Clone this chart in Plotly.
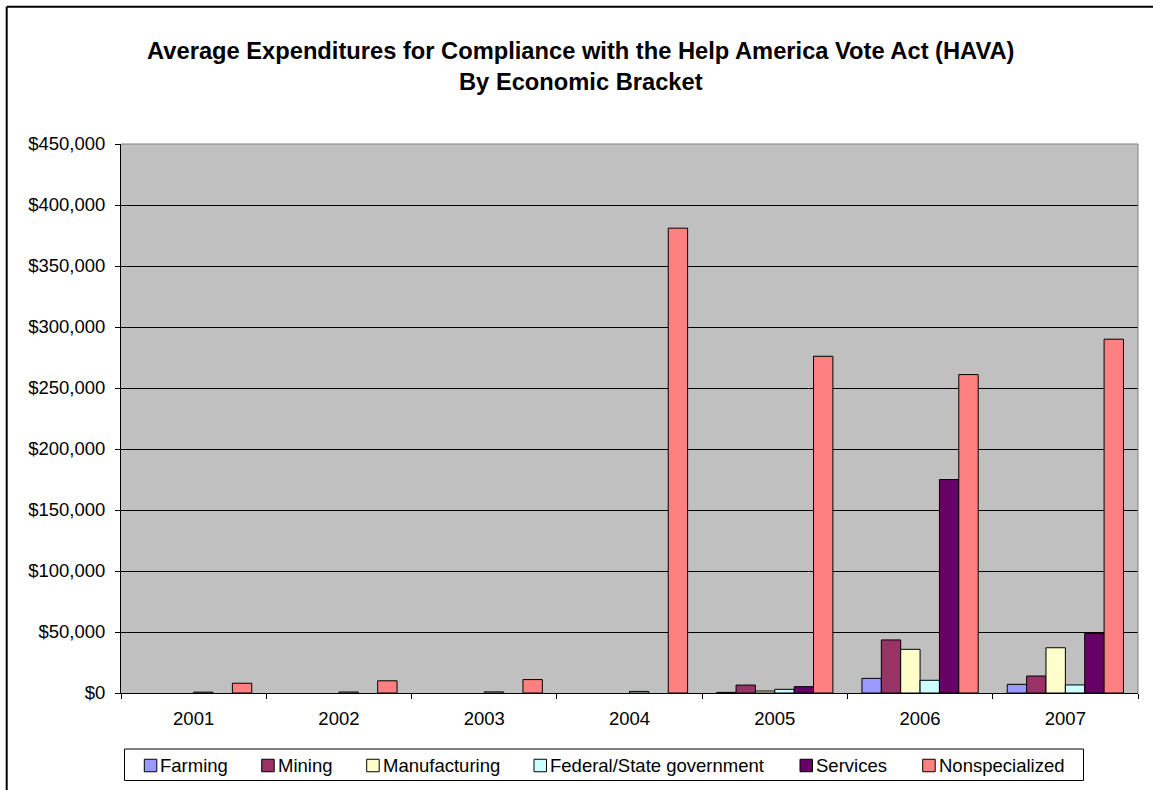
import plotly.graph_objects as go

# ---- data (None = no expenditure reported) ----------------------------
years = ["2001", "2002", "2003", "2004", "2005", "2006", "2007"]

farming = [None, None, None, None, 500, 12000, 7100]
mining = [None, None, None, None, 6500, 43500, 13900]
manufacturing = [None, None, None, None, 1600, 35800, 37100]
federal_state = [700, 800, 900, 1300, 3000, 10400, 6600]
services = [None, None, None, None, 5200, 175000, 48900]
nonspecialized = [8000, 10000, 11000, 381000, 276000, 261000, 290000]

series_names = ["Farming", "Mining", "Manufacturing",
                "Federal/State government", "Services", "Nonspecialized"]
series_values = [farming, mining, manufacturing,
                 federal_state, services, nonspecialized]
series_colors = ["#9999FF", "#993366", "#FFFFCC",
                 "#CCFFFF", "#660066", "#FF8080"]

# ---- page geometry ----------------------------------------------------
W, H = 1153, 790
ML, MR, MT, MB = 121, 15, 144, 97
PW, PH = W - ML - MR, H - MT - MB
FONT = "Liberation Sans, Arial, sans-serif"


def px_x(px):
    return (px - ML) / PW


def px_y(py):
    return (H - MB - py) / PH


fig = go.Figure()
for name, vals, col in zip(series_names, series_values, series_colors):
    fig.add_trace(go.Bar(
        x=years, y=vals, name=name,
        marker=dict(color=col, line=dict(color="black", width=1)),
        showlegend=False,
    ))

shapes = []
annotations = []

# plot-area frame (top and right edges)
shapes.append(dict(type="line", xref="x domain", yref="y domain",
                   x0=0, x1=1, y0=1, y1=1,
                   line=dict(color="#808080", width=1), layer="above"))
shapes.append(dict(type="line", xref="x domain", yref="y domain",
                   x0=1, x1=1, y0=0, y1=1,
                   line=dict(color="#808080", width=1), layer="above"))

# chart-area border (left and top)
shapes.append(dict(type="line", xref="paper", yref="paper",
                   x0=px_x(6.7), x1=px_x(6.7), y0=px_y(6.7), y1=px_y(820),
                   line=dict(color="black", width=2)))
shapes.append(dict(type="line", xref="paper", yref="paper",
                   x0=px_x(6.7), x1=px_x(1180), y0=px_y(6.7), y1=px_y(6.7),
                   line=dict(color="black", width=2)))

# legend box
shapes.append(dict(type="rect", xref="paper", yref="paper",
                   x0=px_x(124.5), x1=px_x(1083.5),
                   y0=px_y(749), y1=px_y(780.5),
                   line=dict(color="black", width=1), fillcolor="white"))

legend_left = [144.3, 261.7, 366.7, 534.0, 800.0, 922.7]
sq = 12.5
cy = 765.5
for name, col, lx in zip(series_names, series_colors, legend_left):
    shapes.append(dict(type="rect", xref="paper", yref="paper",
                       x0=px_x(lx), x1=px_x(lx + sq),
                       y0=px_y(cy - sq / 2), y1=px_y(cy + sq / 2),
                       line=dict(color="black", width=1), fillcolor=col))
    annotations.append(dict(text=name, xref="paper", yref="paper",
                            x=px_x(lx + sq + 1.5), y=px_y(cy),
                            xanchor="left", yanchor="middle",
                            showarrow=False,
                            font=dict(family=FONT, size=18.5, color="black")))

fig.update_layout(
    width=W, height=H, autosize=False,
    margin=dict(l=ML, r=MR, t=MT, b=MB, pad=0),
    paper_bgcolor="white",
    plot_bgcolor="#C0C0C0",
    barmode="group", bargap=0.2, bargroupgap=0,
    font=dict(family=FONT, size=18.5, color="black"),
    title=dict(
        text="<b>Average Expenditures for Compliance with the Help America Vote Act (HAVA)"
             "<br>By Economic Bracket</b>",
        x=580.8 / W, xref="container", xanchor="center",
        y=1 - 59 / H, yref="container", yanchor="top",
        font=dict(family=FONT, size=23.7, color="black"),
    ),
    xaxis=dict(
        type="category", tickson="boundaries",
        ticks="outside", ticklen=5, tickcolor="black", tickwidth=1,
        showline=True, linecolor="black", linewidth=1,
        showgrid=False, ticklabelstandoff=9,
        tickfont=dict(family=FONT, size=18.5, color="black"),
    ),
    yaxis=dict(
        range=[0, 450000], dtick=50000, tick0=0,
        tickprefix="$", tickformat=",d",
        ticks="outside", ticklen=5, tickcolor="black", tickwidth=1,
        showline=True, linecolor="black", linewidth=1,
        showgrid=True, gridcolor="black", gridwidth=1,
        zeroline=False, ticklabelstandoff=6,
        tickfont=dict(family=FONT, size=18.5, color="black"),
    ),
    shapes=shapes,
    annotations=annotations,
)

fig.write_html("out.html")
